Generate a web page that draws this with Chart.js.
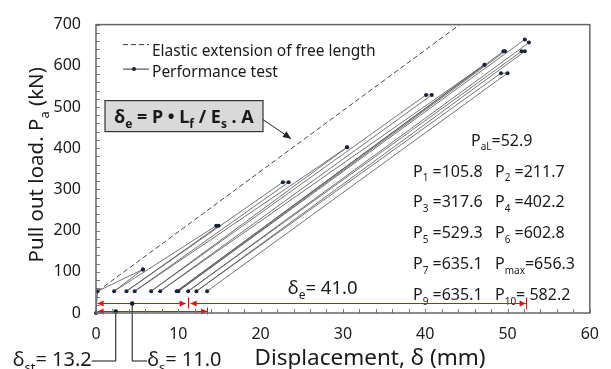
<!DOCTYPE html>
<html>
<head>
<meta charset="utf-8">
<script src="https://cdn.jsdelivr.net/npm/chart.js@4.4.0/dist/chart.umd.min.js"></script>
<style>
  html, body { margin: 0; padding: 0; background: #fff; }
</style>
</head>
<body>
<canvas id="grafico" width="611" height="369"></canvas>
<script>
// anchor load P_aL and the cycle peaks (kN)
const alignLoad = 52.9;
const peakNames = ['1', '2', '3', '4', '5', '6', '7', 'max', '9', '10'];
const peakLoads = [105.8, 211.7, 317.6, 402.2, 529.3, 602.8, 635.1, 656.3, 635.1, 582.2];
// load at the start of each hold (the max cycle overshoots a little before settling)
const peakLoadsFirst = [105.8, 211.7, 317.6, 402.2, 529.3, 602.8, 635.1, 664.0, 635.1, 582.2];
// displacement at start / end of each hold (mm)
const peakDispFirst = [5.7, 14.6, 22.7, 30.5, 40.1, 47.2, 49.5, 52.1, 51.7, 49.2];
const peakDispLast = [5.7, 14.9, 23.4, 30.5, 40.8, 47.2, 49.7, 52.6, 52.1, 50.0];
// residual displacement back at P_aL, before cycle 1 and after each cycle (mm)
const residualDisp = [0.2, 2.2, 3.7, 4.7, 6.7, 7.8, 9.8, 10.0, 11.2, 12.2, 13.5];
// elastic extension of free length
const elasticDisp = [0.2, 44.2];
const elasticLoad = [52.9, 700];
// measured displacements (mm)
const deltaSt = 13.2;
const deltaS = 11.0;
const deltaE = 41.0;
const xTicks = { min: 0, max: 60, step: 10 };
const yTicks = { min: 0, max: 700, step: 100 };

const FONT = '"Noto Sans", sans-serif';
const TXT = '#1a1a1a';

// build the loading path: 0 -> P_aL -> peak -> hold -> back to P_aL ...
const perfPoints = [{ x: 0, y: 0 }, { x: residualDisp[0], y: alignLoad }];
peakLoads.forEach((p, i) => {
    perfPoints.push({ x: peakDispFirst[i], y: peakLoadsFirst[i] });
    perfPoints.push({ x: peakDispLast[i], y: p });
    perfPoints.push({ x: residualDisp[i + 1], y: alignLoad });
});
const elasticPoints = elasticDisp.map((x, i) => ({ x: x, y: elasticLoad[i] }));

// 'P_{aL}=52.9' -> [{t:'P'},{t:'aL',sub:true},{t:'=52.9'}]
function parts(str) {
    return str.split(/(_\{[^}]*\})/).filter(Boolean)
        .map(s => s.startsWith('_{') ? { t: s.slice(2, -1), sub: true } : { t: s });
}

function drawRich(ctx, str, x, y, size, opts = {}) {
    const align = opts.align || 'left';
    const weight = opts.weight || 'normal';
    const subSize = Math.round(size * 0.64);
    const list = parts(str);
    const setFont = p => { ctx.font = `${weight} ${p.sub ? subSize : size}px ${FONT}`; };
    let w = 0;
    list.forEach(p => { setFont(p); w += ctx.measureText(p.t).width; });
    let cx = align === 'right' ? x - w : align === 'center' ? x - w / 2 : x;
    ctx.fillStyle = opts.color || TXT;
    ctx.textAlign = 'left';
    ctx.textBaseline = 'alphabetic';
    list.forEach(p => {
        setFont(p);
        ctx.fillText(p.t, cx, p.sub ? y + size * 0.3 : y);
        cx += ctx.measureText(p.t).width;
    });
    return w;
}

function arrowHead(ctx, x, y, dir, len, half) {
    ctx.beginPath();
    ctx.moveTo(x, y);
    ctx.lineTo(x - dir * len, y - half);
    ctx.lineTo(x - dir * len, y + half);
    ctx.closePath();
    ctx.fill();
}

// box frame with inward minor ticks
const frame = {
    id: 'frame',
    afterDraw(chart) {
        const { ctx, chartArea: a, scales: { x, y } } = chart;
        ctx.save();
        ctx.strokeStyle = '#7a7a7a';
        ctx.lineWidth = 1;
        for (let v = xTicks.min; v <= xTicks.max; v += 2) {
            const px = Math.round(x.getPixelForValue(v)) + 0.5;
            ctx.beginPath(); ctx.moveTo(px, a.bottom); ctx.lineTo(px, a.bottom - 4); ctx.stroke();
        }
        for (let v = yTicks.min; v <= yTicks.max; v += 20) {
            const py = Math.round(y.getPixelForValue(v)) + 0.5;
            ctx.beginPath(); ctx.moveTo(a.left, py); ctx.lineTo(a.left + 4, py); ctx.stroke();
        }
        ctx.strokeStyle = '#666';
        ctx.lineWidth = 1.5;
        ctx.strokeRect(a.left, a.top, a.right - a.left, a.bottom - a.top);

        // axis titles
        ctx.save();
        ctx.translate(43, (a.top + a.bottom) / 2 - 4);
        ctx.rotate(-Math.PI / 2);
        drawRich(ctx, 'Pull out load. P_{a} (kN)', 0, 0, 20.5, { align: 'center' });
        ctx.restore();
        drawRich(ctx, 'Displacement, δ (mm)', 370, 365, 22.5, { align: 'center' });
        ctx.restore();
    }
};

// legend, formula box, peak list and measured displacements
const notes = {
    id: 'notes',
    afterDatasetsDraw(chart) {
        const { ctx, chartArea: a, scales: { x, y } } = chart;
        const X = v => x.getPixelForValue(v);
        const Y = v => y.getPixelForValue(v);
        ctx.save();

        // legend
        ctx.strokeStyle = '#333';
        ctx.lineWidth = 1;
        ctx.setLineDash([5, 3]);
        ctx.beginPath(); ctx.moveTo(a.left + 27, a.top + 20); ctx.lineTo(a.left + 53, a.top + 20); ctx.stroke();
        ctx.setLineDash([]);
        ctx.beginPath(); ctx.moveTo(a.left + 27, a.top + 44.5); ctx.lineTo(a.left + 53, a.top + 44.5); ctx.stroke();
        ctx.fillStyle = '#17223b';
        ctx.beginPath(); ctx.arc(a.left + 38, a.top + 44.5, 2, 0, Math.PI * 2); ctx.fill();
        drawRich(ctx, 'Elastic extension of free length', a.left + 56, a.top + 31, 15.5);
        drawRich(ctx, 'Performance test', a.left + 56, a.top + 52, 15.5);

        // formula box with pointer to the elastic line
        const bx = a.left + 9, by = a.top + 76, bw = 158, bh = 31;
        ctx.fillStyle = '#d9d9d9';
        ctx.fillRect(bx, by, bw, bh);
        ctx.strokeStyle = '#333';
        ctx.lineWidth = 1.2;
        ctx.strokeRect(bx, by, bw, bh);
        drawRich(ctx, 'δ_{e} = P • L_{f} / E_{s} . A', bx + bw / 2, by + 22, 18, { align: 'center', weight: 'bold' });
        const tipX = X(23.7), tipY = Y(423);
        ctx.strokeStyle = '#222';
        ctx.lineWidth = 1;
        ctx.beginPath(); ctx.moveTo(bx + bw, by + 19); ctx.lineTo(tipX, tipY); ctx.stroke();
        ctx.save();
        ctx.translate(tipX, tipY);
        ctx.rotate(Math.atan2(tipY - by - 19, tipX - bx - bw));
        ctx.fillStyle = '#222';
        arrowHead(ctx, 0, 0, 1, 8, 3.5);
        ctx.restore();

        // peak list
        const colX = [a.left + 317, a.left + 399];
        drawRich(ctx, `P_{aL}=${alignLoad}`, a.left + 375, a.top + 121, 16);
        const seps = [' =', ' =', ' =', ' =', ' =', ' =', ' =', '=', ' =', '= '];
        peakLoads.forEach((p, i) => {
            const row = Math.floor(i / 2);
            drawRich(ctx, `P_{${peakNames[i]}}${seps[i]}${p.toFixed(1)}`,
                colX[i % 2], a.top + 152 + row * 30.8, 16);
        });

        // measured displacements, red dimension arrows
        ctx.strokeStyle = '#ff0000';
        ctx.fillStyle = '#ff0000';
        ctx.lineWidth = 1;
        const yUp = Math.round(Y(25)) + 0.5, yLow = Math.round(Y(6)) + 0.5;
        const r0 = residualDisp[0], rS = residualDisp[8], rEnd = residualDisp[10];
        const dim = (x0, x1, yy, leftHead, rightHead) => {
            ctx.beginPath(); ctx.moveTo(X(x0), yy); ctx.lineTo(X(x1), yy); ctx.stroke();
            if (leftHead) arrowHead(ctx, X(x0), yy, -1, 6, 3);
            if (rightHead) arrowHead(ctx, X(x1), yy, 1, 6, 3);
        };
        dim(r0, rS - 0.3, yUp, true, true);
        dim(rS + 0.3, rS + deltaE, yUp, true, true);
        dim(r0, rEnd, yLow, true, true);
        [[rS, yUp - 6, yUp + 5], [rS + deltaE, yUp - 6, yUp + 6], [rEnd, yLow - 4, yLow + 3]].forEach(t => {
            const px = Math.round(X(t[0])) + 0.5;
            ctx.beginPath(); ctx.moveTo(px, t[1]); ctx.lineTo(px, t[2]); ctx.stroke();
        });
        drawRich(ctx, `δ_{e}= ${deltaE.toFixed(1)}`, X(23.3), Y(47), 18.5);

        // leaders for the plastic displacements
        ctx.strokeStyle = '#111';
        ctx.fillStyle = '#111';
        const lowY = a.bottom + 48;
        const dSt = X(2.4), dS = X(4.4);
        ctx.beginPath();
        ctx.moveTo(dSt, yLow); ctx.lineTo(dSt, lowY); ctx.lineTo(dSt - 24, lowY);
        ctx.moveTo(dS, yUp); ctx.lineTo(dS, lowY); ctx.lineTo(dS + 15, lowY);
        ctx.stroke();
        [[dSt, yLow], [dS, yUp]].forEach(d => {
            ctx.beginPath(); ctx.arc(d[0], d[1], 2.3, 0, Math.PI * 2); ctx.fill();
        });
        drawRich(ctx, `δ_{st}= ${deltaSt.toFixed(1)}`, dSt - 24, lowY + 5, 20, { align: 'right' });
        drawRich(ctx, `δ_{s}= ${deltaS.toFixed(1)}`, dS + 15, lowY + 5, 20);
        ctx.restore();
    }
};

new Chart(document.getElementById('grafico'), {
    type: 'scatter',
    data: {
        datasets: [
            {
                label: 'Elastic extension of free length',
                data: elasticPoints,
                showLine: true,
                borderColor: '#444',
                borderWidth: 1,
                borderDash: [5, 3],
                pointRadius: 0,
            },
            {
                label: 'Performance test',
                data: perfPoints,
                showLine: true,
                borderColor: 'rgba(80, 80, 80, 0.8)',
                borderWidth: 1,
                pointRadius: 2,
                pointBorderWidth: 0,
                pointBackgroundColor: '#17223b',
                clip: false,
            },
        ],
    },
    options: {
        responsive: false,
        animation: false,
        devicePixelRatio: 1,
        layout: { padding: { top: 13, right: 16, left: 0, bottom: 0 } },
        plugins: { legend: { display: false }, tooltip: { enabled: false } },
        scales: {
            x: {
                type: 'linear',
                min: xTicks.min,
                max: xTicks.max,
                ticks: { stepSize: xTicks.step, color: TXT, font: { family: FONT, size: 16 }, padding: 12, maxRotation: 0 },
                grid: { display: false, drawTicks: false },
                border: { display: false },
                afterFit: s => { s.height = 56; },
            },
            y: {
                type: 'linear',
                min: yTicks.min,
                max: yTicks.max,
                ticks: { stepSize: yTicks.step, color: TXT, font: { family: FONT, size: 16 }, padding: 15 },
                grid: { display: false, drawTicks: false },
                border: { display: false },
                afterFit: s => { s.height = undefined; s.width = 96; },
            },
        },
    },
    plugins: [frame, notes],
});
</script>
</body>
</html>
